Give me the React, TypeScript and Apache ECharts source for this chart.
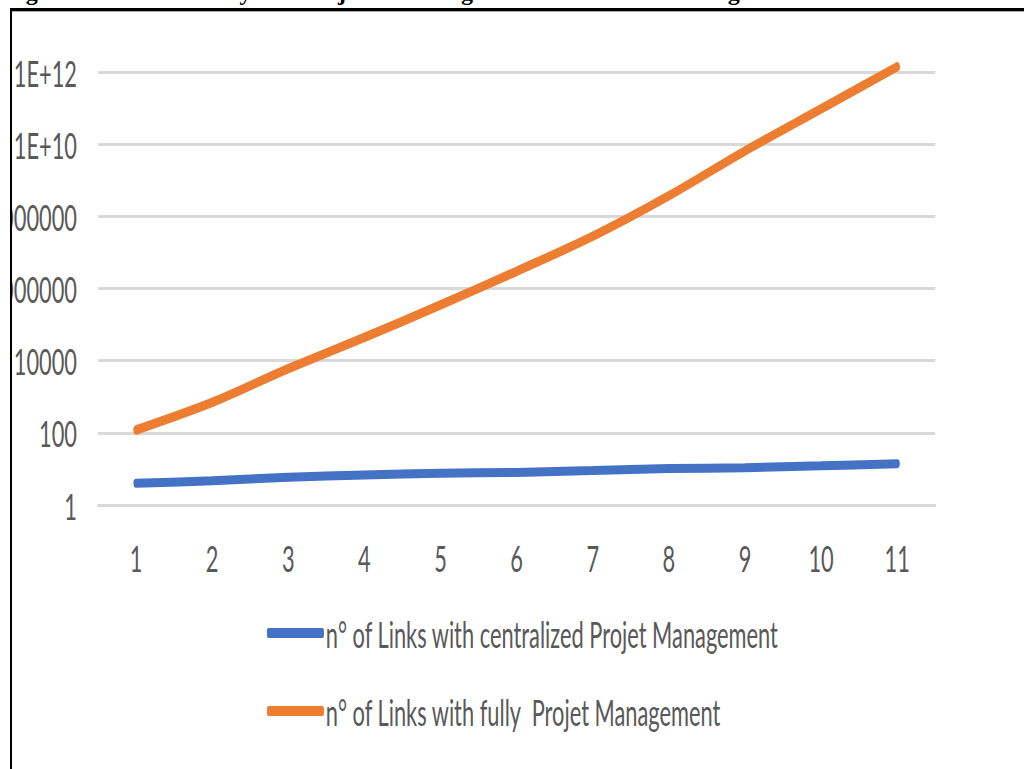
import React, { useEffect, useRef } from "react";
import * as echarts from "echarts";

const categories = ["1", "2", "3", "4", "5", "6", "7", "8", "9", "10", "11"];
const centralized = [4, 4.7, 5.9, 6.8, 7.6, 8, 9, 10.2, 10.8, 12.2, 14];
const fully = [120, 700, 6000, 44000, 350000, 3000000, 28000000, 370000000, 6500000000, 95000000000, 1400000000000];
const seriesNames = [
  "n° of Links with centralized Projet Management",
  "n° of Links with fully  Projet Management",
];
const titleText = "Figure 5: Scalability of Project Management Links on a Logarithmic Scale";

const S = 0.59; // horizontal squeeze of the original picture
const W = 1024 / S;
const FONT = "Lato, 'Open Sans', sans-serif";

export default function App() {
  const ref = useRef<HTMLDivElement>(null);
  useEffect(() => {
    document.body.style.margin = "0";
    const chart = echarts.init(ref.current!, null, { renderer: "svg" });
    const u = (x: number) => x / S;
    chart.setOption({
      animation: false,
      backgroundColor: "transparent",
      textStyle: { fontFamily: FONT },
      grid: {
        left: u(98),
        right: W - u(935),
        top: 72,
        bottom: 769 - 505,
        containLabel: false,
        outerBoundsMode: "none",
      },
      xAxis: {
        type: "category",
        data: categories,
        boundaryGap: true,
        axisTick: { show: false },
        axisLine: { show: true, lineStyle: { color: "#d9d9d9", width: 3 } },
        axisLabel: { color: "#595959", fontSize: 37, fontFamily: FONT, margin: 34 },
      },
      yAxis: {
        type: "log",
        logBase: 100,
        min: 1,
        max: 1e12,
        splitNumber: 6,
        axisLine: { show: false },
        axisTick: { show: false },
        splitLine: { show: true, lineStyle: { color: "#d9d9d9", width: 3 } },
        axisLabel: {
          color: "#595959",
          fontSize: 37,
          fontFamily: FONT,
          margin: u(98) - u(77),
          formatter: (v: number) => {
            const e = Math.round(Math.log10(v));
            return e >= 10 ? `1E+${e}` : String(Math.round(v));
          },
        },
      },
      legend: {
        orient: "vertical",
        left: u(264),
        top: 608,
        itemWidth: u(321) - u(264),
        itemHeight: 10,
        itemGap: 38,
        icon: "roundRect",
        textStyle: { color: "#595959", fontSize: 37, fontFamily: FONT, lineHeight: 40, padding: [0, 0, 0, -2] },
        data: seriesNames,
      },
      series: [
        {
          name: seriesNames[0],
          type: "line",
          data: centralized,
          smooth: 0.3,
          symbol: "none",
          clip: false,
          lineStyle: { color: "#4472C4", width: 9, cap: "round" },
          itemStyle: { color: "#4472C4" },
        },
        {
          name: seriesNames[1],
          type: "line",
          data: fully,
          smooth: 0.3,
          symbol: "none",
          clip: false,
          lineStyle: { color: "#ED7D31", width: 9.5, cap: "round" },
          itemStyle: { color: "#ED7D31" },
        },
      ],
    });
    return () => chart.dispose();
  }, []);

  return (
    <div style={{ position: "relative", width: 1024, height: 769, overflow: "hidden", background: "#fff" }}>
      <div
        style={{
          position: "absolute",
          left: 0,
          top: -21,
          whiteSpace: "nowrap",
          fontFamily: "'Liberation Serif', 'Times New Roman', serif",
          fontWeight: "bold",
          fontSize: 24,
          letterSpacing: 2.2,
          color: "#000",
        }}
      >
        {titleText}
      </div>
      <div
        style={{
          position: "absolute",
          left: 10,
          top: 8,
          width: 1100,
          height: 800,
          borderTop: "3px solid #000",
          borderLeft: "2px solid #000",
          overflow: "hidden",
          background: "#fff",
        }}
      >
        <div style={{ position: "absolute", left: 0, top: 0, width: 1100, height: 1, background: "#aaa" }} />
        <div
          ref={ref}
          style={{
            position: "absolute",
            left: -12,
            top: -11,
            width: W,
            height: 769,
            transform: `scaleX(${S})`,
            transformOrigin: "0 0",
          }}
        />
      </div>
    </div>
  );
}
